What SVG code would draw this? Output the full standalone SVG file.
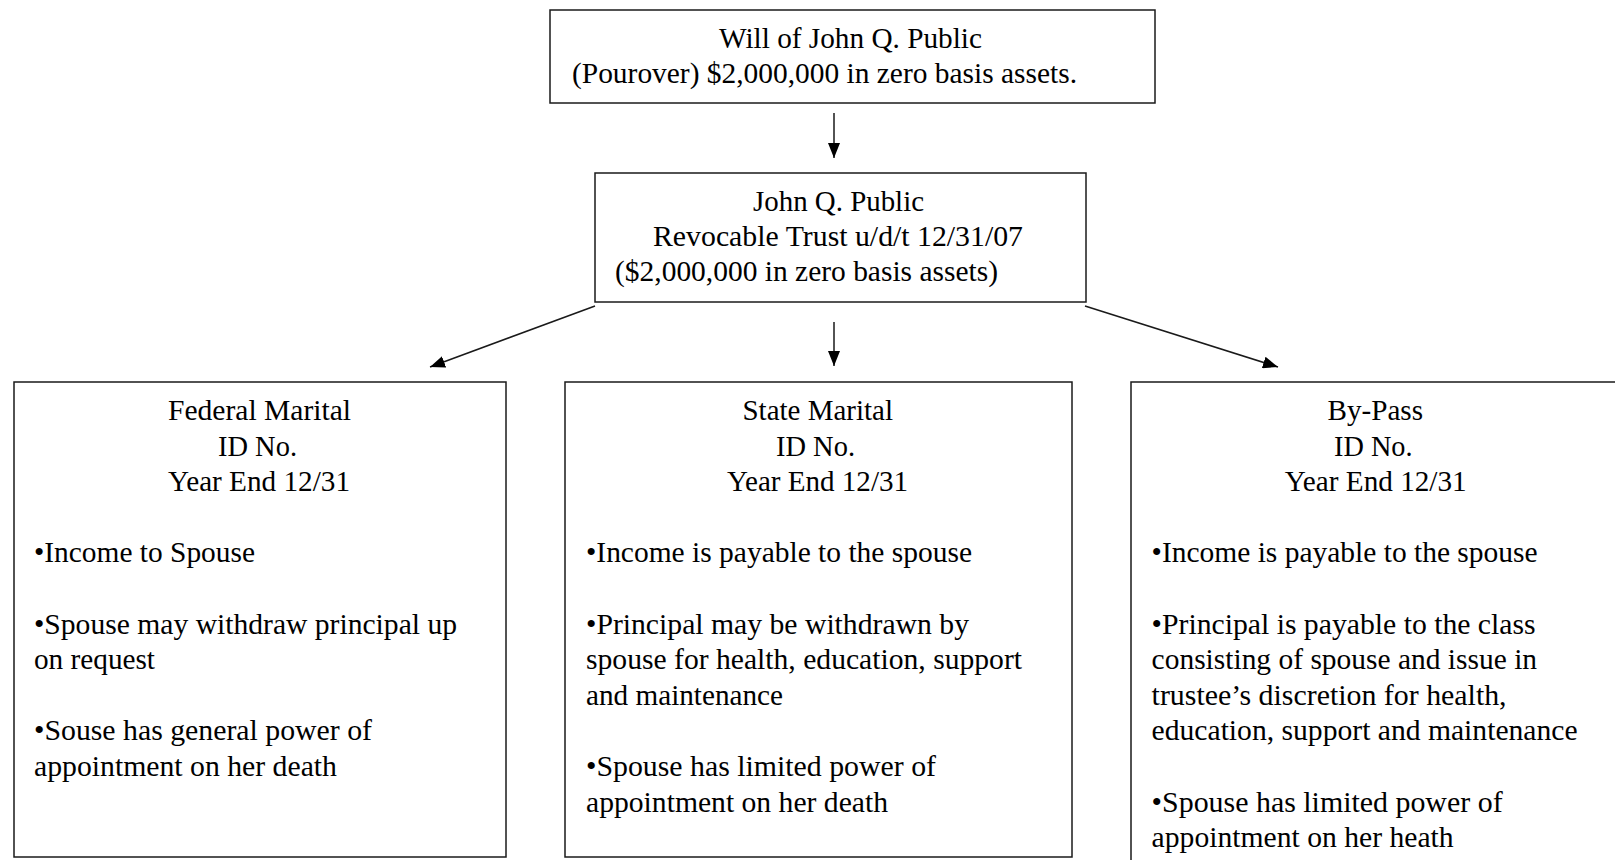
<svg xmlns="http://www.w3.org/2000/svg" width="1615" height="860" viewBox="0 0 1615 860">
  <style>
    .box { fill: #ffffff; stroke: #1a1a1a; stroke-width: 1.5; }
    .t { font-family: "Liberation Serif", "Times New Roman", serif; font-size: 29px; fill: #000; }
    .conn { stroke: #1a1a1a; stroke-width: 1.5; fill: none; marker-end: url(#arrow); }
  </style>
  <defs>
    <marker id="arrow" markerUnits="userSpaceOnUse" markerWidth="15" markerHeight="12" refX="15" refY="6" orient="auto">
      <path d="M0,0 L15,6 L0,12 z" fill="#000"/>
    </marker>
  </defs>
  <rect x="0" y="0" width="1615" height="860" fill="#ffffff"/>

  <g id="connectors">
    <line class="conn" x1="834" y1="113" x2="834" y2="158"/>
    <line class="conn" x1="595" y1="306" x2="430" y2="367"/>
    <line class="conn" x1="834" y1="322" x2="834" y2="366"/>
    <line class="conn" x1="1085" y1="306" x2="1278" y2="367"/>
  </g>

  <g id="will">
    <rect class="box" x="550" y="10" width="605" height="93"/>
    <text class="t" x="719" y="48" textLength="263" lengthAdjust="spacingAndGlyphs">Will of John Q. Public</text>
    <text class="t" x="572" y="83" textLength="505" lengthAdjust="spacingAndGlyphs">(Pourover) $2,000,000 in zero basis assets.</text>
  </g>

  <g id="trust">
    <rect class="box" x="595" y="173" width="491" height="129"/>
    <text class="t" x="753" y="211" textLength="171" lengthAdjust="spacingAndGlyphs">John Q. Public</text>
    <text class="t" x="653" y="246" textLength="370" lengthAdjust="spacingAndGlyphs">Revocable Trust u/d/t 12/31/07</text>
    <text class="t" x="615" y="281" textLength="383" lengthAdjust="spacingAndGlyphs">($2,000,000 in zero basis assets)</text>
  </g>

  <g id="federal-marital">
    <rect class="box" x="14" y="382" width="492" height="475"/>
    <text class="t" x="168" y="420" textLength="183" lengthAdjust="spacingAndGlyphs">Federal Marital</text>
    <text class="t" x="218" y="455.6" textLength="79" lengthAdjust="spacingAndGlyphs">ID No.</text>
    <text class="t" x="168" y="491.2" textLength="182" lengthAdjust="spacingAndGlyphs">Year End 12/31</text>
    <text class="t" x="34" y="562.4" textLength="221" lengthAdjust="spacingAndGlyphs">•Income to Spouse</text>
    <text class="t" x="34" y="633.6" textLength="423" lengthAdjust="spacingAndGlyphs">•Spouse may withdraw principal up</text>
    <text class="t" x="34" y="669.2" textLength="121" lengthAdjust="spacingAndGlyphs">on request</text>
    <text class="t" x="34" y="740.4" textLength="338" lengthAdjust="spacingAndGlyphs">•Souse has general power of</text>
    <text class="t" x="34" y="776" textLength="303" lengthAdjust="spacingAndGlyphs">appointment on her death</text>
  </g>

  <g id="state-marital">
    <rect class="box" x="565" y="382" width="507" height="475"/>
    <text class="t" x="742.5" y="420" textLength="150.5" lengthAdjust="spacingAndGlyphs">State Marital</text>
    <text class="t" x="776" y="455.6" textLength="79" lengthAdjust="spacingAndGlyphs">ID No.</text>
    <text class="t" x="727" y="491.2" textLength="181" lengthAdjust="spacingAndGlyphs">Year End 12/31</text>
    <text class="t" x="586" y="562.4" textLength="386" lengthAdjust="spacingAndGlyphs">•Income is payable to the spouse</text>
    <text class="t" x="586" y="633.6" textLength="383" lengthAdjust="spacingAndGlyphs">•Principal may be withdrawn by</text>
    <text class="t" x="586" y="669.2" textLength="436" lengthAdjust="spacingAndGlyphs">spouse for health, education, support</text>
    <text class="t" x="586" y="704.8" textLength="197" lengthAdjust="spacingAndGlyphs">and maintenance</text>
    <text class="t" x="586" y="776" textLength="350" lengthAdjust="spacingAndGlyphs">•Spouse has limited power of</text>
    <text class="t" x="586" y="811.6" textLength="302" lengthAdjust="spacingAndGlyphs">appointment on her death</text>
  </g>

  <g id="by-pass">
    <rect class="box" x="1131" y="382" width="500" height="500"/>
    <text class="t" x="1327.5" y="420" textLength="95.5" lengthAdjust="spacingAndGlyphs">By-Pass</text>
    <text class="t" x="1334" y="455.6" textLength="78.5" lengthAdjust="spacingAndGlyphs">ID No.</text>
    <text class="t" x="1284.7" y="491.2" textLength="182" lengthAdjust="spacingAndGlyphs">Year End 12/31</text>
    <text class="t" x="1151.6" y="562.4" textLength="386" lengthAdjust="spacingAndGlyphs">•Income is payable to the spouse</text>
    <text class="t" x="1151.6" y="633.6" textLength="384" lengthAdjust="spacingAndGlyphs">•Principal is payable to the class</text>
    <text class="t" x="1151.6" y="669.2" textLength="385.5" lengthAdjust="spacingAndGlyphs">consisting of spouse and issue in</text>
    <text class="t" x="1151.6" y="704.8" textLength="355" lengthAdjust="spacingAndGlyphs">trustee’s discretion for health,</text>
    <text class="t" x="1151.6" y="740.4" textLength="426" lengthAdjust="spacingAndGlyphs">education, support and maintenance</text>
    <text class="t" x="1151.6" y="811.6" textLength="351" lengthAdjust="spacingAndGlyphs">•Spouse has limited power of</text>
    <text class="t" x="1151.6" y="847.2" textLength="302" lengthAdjust="spacingAndGlyphs">appointment on her heath</text>
  </g>
</svg>
